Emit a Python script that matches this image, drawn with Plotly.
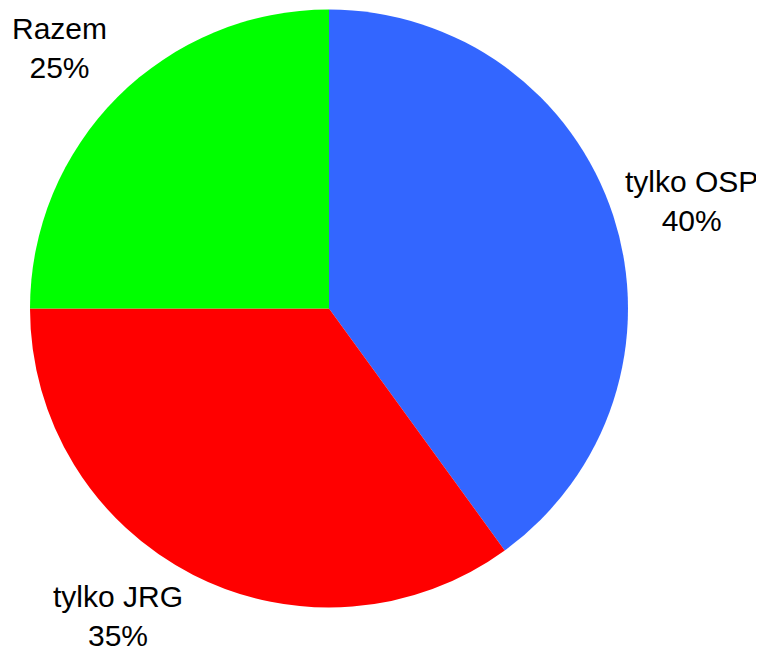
import plotly.graph_objects as go

categories = ["tylko OSP", "tylko JRG", "Razem"]
values = [40, 35, 25]
colors = ["#3366FF", "#FF0000", "#00FF00"]

W, H = 764, 656
OFF = 8  # page body margin in the browser
# label anchor positions (pixels in screenshot) for each category
label_px = [(691, 201), (118, 616), (59, 48)]

total = sum(values)
fig = go.Figure(go.Pie(
    labels=categories,
    values=values,
    marker=dict(colors=colors, line=dict(width=0)),
    sort=False,
    direction="clockwise",
    rotation=0,
    textinfo="none",
    hoverinfo="label+percent",
    showlegend=False,
    domain=dict(x=[(30 - OFF) / W, (628 - OFF) / W],
                y=[(H - (607.5 - OFF)) / H, (H - (9.5 - OFF)) / H]),
))

for cat, val, (px, py) in zip(categories, values, label_px):
    fig.add_annotation(
        text=f"{cat}<br>{round(100 * val / total)}%",
        x=(px - OFF) / W, y=1 - (py - OFF) / H, xref="paper", yref="paper",
        showarrow=False, xanchor="center", yanchor="middle",
        font=dict(family="Liberation Sans, Arial", size=30, color="black"),
    )

fig.update_layout(
    width=W, height=H,
    margin=dict(l=0, r=0, t=0, b=0),
    paper_bgcolor="white", plot_bgcolor="white",
)
fig.write_html("out.html")
